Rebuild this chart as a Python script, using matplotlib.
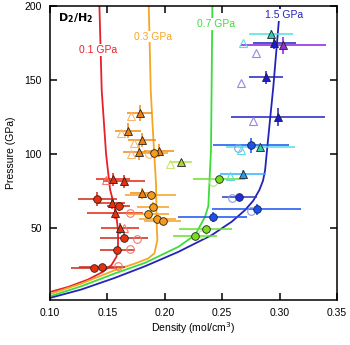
import matplotlib
matplotlib.use("Agg")
import matplotlib.pyplot as plt

plt.rcParams['font.family'] = ['Liberation Sans', 'DejaVu Sans']

# isotherm-like model curves (density mol/cm3, pressure GPa)
red_curve_d = [0.100, 0.1157, 0.1331, 0.146, 0.1534, 0.1578, 0.1592, 0.1592, 0.1575, 0.1543, 0.1523, 0.1488, 0.145, 0.143]
red_curve_p = [6.9, 10.3, 15.3, 20.5, 25.0, 30.6, 37.4, 48.6, 60.0, 70.0, 76.0, 100.0, 143.0, 200.0]
orange_curve_d = [0.100, 0.1273, 0.1563, 0.1736, 0.1854, 0.1909, 0.1935, 0.1930, 0.1923, 0.1900, 0.1877, 0.186]
orange_curve_p = [5.5, 12.6, 21.6, 26.0, 29.5, 33.0, 42.0, 50.0, 80.0, 110.0, 143.0, 200.0]
green_curve_d = [0.100, 0.1273, 0.1563, 0.1828, 0.2118, 0.2263, 0.2350, 0.2379, 0.2388, 0.2402, 0.2408, 0.2414]
green_curve_p = [4.0, 10.8, 19.4, 26.6, 37.4, 45.3, 57.6, 65.0, 80.4, 102.7, 150.0, 200.0]
blue_curve_d = [0.100, 0.1273, 0.1563, 0.1828, 0.2118, 0.2408, 0.2582, 0.2699, 0.2770, 0.2823, 0.2855, 0.2873, 0.2890, 0.2916, 0.2945, 0.3004]
blue_curve_p = [2.9, 8.6, 16.4, 24.3, 34.0, 45.3, 54.3, 62.2, 68.5, 75.7, 82.0, 89.0, 102.7, 123.0, 145.5, 200.0]

# red data
red_tri_d = [0.155, 0.1645, 0.1537, 0.1566, 0.161]
red_tri_p = [83.0, 81.5, 67.1, 60.0, 49.8]
red_tri_dx = [0.015, 0.018, 0.012, 0.024, 0.0165]
red_tri_dp = [4.5, 4.5, 4.0, 4.0, 3.5]
red_circ_d = [0.141, 0.160, 0.1642, 0.1587, 0.1383, 0.145]
red_circ_p = [69.6, 64.9, 43.6, 35.0, 22.8, 23.5]
red_circ_dx = [0.017, 0.010, 0.021, 0.015, 0.020, 0.020]
red_circ_dp = [4.5, 3.0, 3.0, 2.5, 2.0, 2.0]
red_open_circ_d = [0.170, 0.1755, 0.1697, 0.1595]
red_open_circ_p = [60.0, 42.6, 35.8, 24.3]
red_open_tri_d = [0.149, 0.1647]
red_open_tri_p = [82.4, 50.2]

# orange data
orange_tri_d = [0.178, 0.168, 0.180, 0.1775, 0.195, 0.180]
orange_tri_p = [127.5, 115.7, 109.5, 101.1, 102.2, 73.4]
orange_tri_dx = [0.011, 0.011, 0.012, 0.014, 0.013, 0.010]
orange_tri_dp = [5.5, 5.0, 5.0, 5.0, 4.5, 4.0]
orange_circ_d = [0.1906, 0.1877, 0.190, 0.1857, 0.1935, 0.198]
orange_circ_p = [100.9, 72.3, 64.4, 59.3, 55.9, 54.5]
orange_circ_dx = [0.012, 0.022, 0.014, 0.018, 0.016, 0.016]
orange_circ_dp = [3.0, 3.0, 3.0, 3.0, 2.5, 2.5]
orange_open_tri_d = [0.1706, 0.1616, 0.173, 0.1706]
orange_open_tri_p = [125.7, 114.0, 107.6, 99.8]
orange_open_circ_d = [0.186]
orange_open_circ_p = [100.0]

# green data
green_circ_d = [0.2263, 0.2356, 0.247]
green_circ_p = [44.6, 49.3, 82.9]
green_circ_dx = [0.019, 0.023, 0.0225]
green_circ_dp = [2.0, 2.0, 2.5]
green_open_circ_d = [0.232, 0.2423]
green_open_circ_p = [46.0, 81.3]
lime_tri_d = [0.214]
lime_tri_p = [94.8]
lime_tri_dx = [0.010]
lime_open_tri_d = [0.2045]
lime_open_tri_p = [93.2]

# blue data
blue_circ_d = [0.2417, 0.280, 0.275]
blue_circ_p = [57.6, 62.6, 105.9]
blue_circ_dx = [0.030, 0.039, 0.033]
blue_circ_dp = [3.5, 3.5, 5.0]
navy_circ_d = [0.265]
navy_circ_p = [70.7]
navy_circ_dx = [0.015]
navy_tri_d = [0.2954, 0.288, 0.2989]
navy_tri_p = [175.2, 151.8, 125.2]
navy_tri_dx = [0.019, 0.015, 0.041]
navy_tri_dp = [4.5, 4.5, 6.0]
sky_tri_d = [0.268]
sky_tri_p = [86.5]
sky_tri_dx = [0.020]
cyan_tri_d = [0.283, 0.2922]
cyan_tri_p = [105.0, 181.0]
cyan_tri_dx = [0.030, 0.019]
cyan_tri_dp = [2.5, 3.0]
purple_tri_d = [0.3032]
purple_tri_p = [173.4]
purple_tri_dx = [0.037]
purple_tri_dp = [5.6]
lav_open_tri_d = [0.279, 0.266, 0.277]
lav_open_tri_p = [168.0, 147.7, 122.5]
blue_open_circ_d = [0.2588, 0.275, 0.264]
blue_open_circ_p = [70.0, 61.7, 104.3]
cyan_open_tri_d = [0.268, 0.266, 0.257]
cyan_open_tri_p = [175.2, 102.7, 85.1]

curve_labels = ['0.1 GPa', '0.3 GPa', '0.7 GPa', '1.5 GPa']
label_d = [0.1422, 0.1897, 0.2446, 0.3038]
label_p = [170.3, 179.3, 187.8, 193.9]


fig = plt.figure(figsize=(3.5, 3.45), dpi=100)
ax = fig.add_axes([0.143, 0.130, 0.820, 0.853])

RED = '#e8202a'
ORANGE = '#f5a623'
GREEN = '#3ddc3d'
BLUE = '#2323b8'
curve_colors = [RED, ORANGE, GREEN, BLUE]

ax.plot(red_curve_d, red_curve_p, color=RED, lw=1.3, zorder=2)
ax.plot(orange_curve_d, orange_curve_p, color=ORANGE, lw=1.3, zorder=2)
ax.plot(green_curve_d, green_curve_p, color=GREEN, lw=1.3, zorder=2)
ax.plot(blue_curve_d, blue_curve_p, color=BLUE, lw=1.3, zorder=2)


def filled(d, p, dx, dp, marker, face, bar):
    ax.errorbar(d, p, xerr=dx, yerr=dp, fmt='none', ecolor=bar, elinewidth=1.1, zorder=3)
    ax.plot(d, p, marker, ms=5.5 if marker == 'o' else 6, mfc=face, mec='#222222',
            mew=0.6, ls='none', zorder=5)


def hollow(d, p, marker, col):
    ax.plot(d, p, marker, ms=5.5 if marker == 'o' else 6, mfc='none', mec=col,
            mew=0.8, ls='none', zorder=4)


hollow(red_open_circ_d, red_open_circ_p, 'o', '#f07a70')
hollow(red_open_tri_d, red_open_tri_p, '^', '#f07a70')
hollow(orange_open_tri_d, orange_open_tri_p, '^', '#f6b870')
hollow(orange_open_circ_d, orange_open_circ_p, 'o', '#f6b870')
hollow(green_open_circ_d, green_open_circ_p, 'o', '#a8e890')
hollow(lime_open_tri_d, lime_open_tri_p, '^', '#c8e878')
hollow(lav_open_tri_d, lav_open_tri_p, '^', '#9a86e6')
hollow(blue_open_circ_d, blue_open_circ_p, 'o', '#8a9ae8')
hollow(cyan_open_tri_d, cyan_open_tri_p, '^', '#60d8e8')

filled(red_tri_d, red_tri_p, red_tri_dx, red_tri_dp, '^', '#e8300c', '#e8200c')
filled(red_circ_d, red_circ_p, red_circ_dx, red_circ_dp, 'o', '#e8300c', '#c8281a')
filled(orange_tri_d, orange_tri_p, orange_tri_dx, orange_tri_dp, '^', '#f08010', '#f08a10')
filled(orange_circ_d, orange_circ_p, orange_circ_dx, orange_circ_dp, 'o', '#f59a1a', '#f5a020')
filled(green_circ_d, green_circ_p, green_circ_dx, green_circ_dp, 'o', '#7add1a', '#66e02a')
filled(lime_tri_d, lime_tri_p, lime_tri_dx, [2.0], '^', '#a8d830', '#b8e050')
filled(blue_circ_d, blue_circ_p, blue_circ_dx, blue_circ_dp, 'o', '#1a50f0', '#1a50f0')
filled(navy_circ_d, navy_circ_p, navy_circ_dx, [2.5], 'o', '#1a30e0', '#2a3ab8')
filled(navy_tri_d, navy_tri_p, navy_tri_dx, navy_tri_dp, '^', '#1a1ad0', '#2020c0')
filled(sky_tri_d, sky_tri_p, sky_tri_dx, [2.5], '^', '#2a9af0', '#30b0ff')
filled(cyan_tri_d, cyan_tri_p, cyan_tri_dx, cyan_tri_dp, '^', '#30d0b8', '#50e0e0')
filled(purple_tri_d, purple_tri_p, purple_tri_dx, purple_tri_dp, '^', '#9030d8', '#8a20e0')

for txt, d, p, c in zip(curve_labels, label_d, label_p, curve_colors):
    ax.text(d, p, txt, color=c, fontsize=7.5, ha='center', va='center', zorder=6,
            bbox=dict(facecolor='white', edgecolor='none', pad=0.6))

ax.text(0.107, 191.5, r'$\mathbf{D_2/H_2}$', fontsize=8, ha='left', va='center')

ax.set_xlim(0.10, 0.35)
ax.set_ylim(1.4, 200)
ax.set_xticks([0.10, 0.15, 0.20, 0.25, 0.30, 0.35])
ax.set_xticklabels(['0.10', '0.15', '0.20', '0.25', '0.30', '0.35'])
ax.set_yticks([50, 100, 150, 200])
ax.tick_params(direction='in', top=True, right=True, length=5, width=1.1, labelsize=7.5, pad=6)
for s in ax.spines.values():
    s.set_linewidth(1.1)

ax.set_xlabel('Density (mol/cm$^3$)', fontsize=7.5, labelpad=1)
ax.set_ylabel('Pressure (GPa)', fontsize=7.5, labelpad=6)

fig.savefig('out.png', dpi=100)
